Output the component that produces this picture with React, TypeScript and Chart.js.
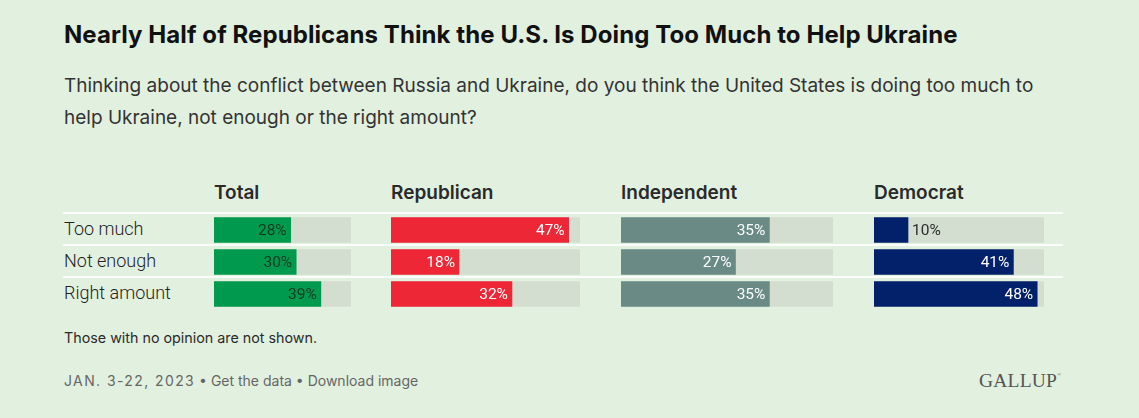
import React, { useEffect, useRef } from "react";
import { Chart, registerables } from "chart.js";

Chart.register(...registerables);

// ---- Data ----
const categories = ["Too much", "Not enough", "Right amount"];
const groups = ["Total", "Republican", "Independent", "Democrat"];
const totalValues = [28, 30, 39];
const republicanValues = [47, 18, 32];
const independentValues = [35, 27, 35];
const democratValues = [10, 41, 48];
const scaleMax = 50;

const title = "Nearly Half of Republicans Think the U.S. Is Doing Too Much to Help Ukraine";
const subtitleLines = [
  "Thinking about the conflict between Russia and Ukraine, do you think the United States is doing too much to",
  "help Ukraine, not enough or the right amount?",
];
const footnote = "Those with no opinion are not shown.";
const dateText = "JAN. 3-22, 2023";
const footerLinks = " \u2022 Get the data \u2022 Download image";

// ---- Layout / style ----
const BG = "#e2f0df";
const TRACK = "#d3ded0";
const FONT = "Inter, 'Noto Sans', sans-serif";
const FONT2 = "Roboto, 'Noto Sans', sans-serif";
const ROW_H = 32;
const CHART_TOP = 214;

const panels = [
  { name: groups[0], values: totalValues, x: 214, w: 137, color: "#009a4e", text: "#0f3a22" },
  { name: groups[1], values: republicanValues, x: 391, w: 189, color: "#ee2737", text: "#ffffff" },
  { name: groups[2], values: independentValues, x: 621, w: 212, color: "#6a8b85", text: "#ffffff" },
  { name: groups[3], values: democratValues, x: 874, w: 170, color: "#03206a", text: "#ffffff" },
];

function makeLabelPlugin(textColor: string) {
  return {
    id: "barLabels",
    afterDatasetsDraw(chart: any) {
      const ctx = chart.ctx as CanvasRenderingContext2D;
      const meta = chart.getDatasetMeta(0);
      const data = chart.data.datasets[0].data as number[];
      ctx.save();
      ctx.font = `15.5px ${FONT2}`;
      ctx.textBaseline = "middle";
      meta.data.forEach((bar: any, i: number) => {
        const p = bar.getProps(["x", "y", "base"], true);
        const txt = `${data[i]}%`;
        const tw = ctx.measureText(txt).width;
        if (p.x - p.base > tw + 10) {
          ctx.textAlign = "right";
          ctx.fillStyle = textColor;
          ctx.fillText(txt, p.x - 4, p.y + 1);
        } else {
          ctx.textAlign = "left";
          ctx.fillStyle = "#2b2b2b";
          ctx.fillText(txt, p.x + 4, p.y + 1);
        }
      });
      ctx.restore();
    },
  };
}

function Panel(props: { values: number[]; x: number; w: number; color: string; text: string }) {
  const ref = useRef<HTMLCanvasElement>(null);
  useEffect(() => {
    const chart = new Chart(ref.current as HTMLCanvasElement, {
      type: "bar",
      data: {
        labels: categories,
        datasets: [
          {
            data: props.values,
            backgroundColor: props.color,
            barThickness: 25,
            grouped: false,
            order: 1,
          } as any,
          {
            data: categories.map(() => scaleMax),
            backgroundColor: TRACK,
            barThickness: 25,
            grouped: false,
            order: 2,
          } as any,
        ],
      },
      options: {
        indexAxis: "y",
        responsive: false,
        animation: false,
        devicePixelRatio: 1,
        layout: { padding: 0 },
        scales: {
          x: { min: 0, max: scaleMax, display: false },
          y: { display: false },
        },
        plugins: { legend: { display: false }, tooltip: { enabled: false } },
      },
      plugins: [makeLabelPlugin(props.text)],
    });
    return () => chart.destroy();
  }, []);
  const h = ROW_H * categories.length;
  return (
    <canvas
      ref={ref}
      width={props.w}
      height={h}
      style={{ position: "absolute", left: props.x, top: CHART_TOP, width: props.w, height: h }}
    />
  );
}

function Txt(props: { x: number; cy: number; size: number; children: any; style?: any }) {
  const lh = props.size + 6;
  return (
    <div
      style={{
        position: "absolute",
        left: props.x,
        top: props.cy - lh / 2,
        fontSize: props.size,
        lineHeight: `${lh}px`,
        whiteSpace: "nowrap",
        fontFamily: FONT,
        ...(props.style || {}),
      }}
    >
      {props.children}
    </div>
  );
}

export default function App() {
  return (
    <div
      style={{
        position: "fixed",
        left: 0,
        top: 0,
        width: 1139,
        height: 418,
        background: BG,
        overflow: "hidden",
        color: "#333",
      }}
    >
      <Txt x={64} cy={35} size={24} style={{ fontWeight: 700, color: "#111", letterSpacing: 0.08 }}>
        {title}
      </Txt>
      {subtitleLines.map((l, i) => (
        <Txt key={i} x={64} cy={85 + i * 32} size={19} style={{ color: "#333" }}>
          {l}
        </Txt>
      ))}
      {panels.map((p) => (
        <Txt key={p.name} x={p.x} cy={192} size={19} style={{ fontWeight: 600, color: "#2a2a2a" }}>
          {p.name}
        </Txt>
      ))}
      {categories.map((c, i) => (
        <div
          key={"sep" + i}
          style={{
            position: "absolute",
            left: 63,
            top: CHART_TOP - 2 + i * ROW_H,
            width: 1000,
            height: 2,
            background: "#fbfdfa",
          }}
        />
      ))}
      {categories.map((c, i) => (
        <Txt
          key={c}
          x={64}
          cy={CHART_TOP + 15 + i * ROW_H}
          size={18}
          style={{ color: "#222", fontFamily: FONT2, fontWeight: 300 }}
        >
          {c}
        </Txt>
      ))}
      {panels.map((p) => (
        <Panel key={"c" + p.name} values={p.values} x={p.x} w={p.w} color={p.color} text={p.text} />
      ))}
      <Txt x={64} cy={338} size={14.3} style={{ color: "#2b2b2b" }}>
        {footnote}
      </Txt>
      <Txt x={64} cy={381} size={14} style={{ color: "#666" }}>
        <span style={{ letterSpacing: 1.4 }}>{dateText}</span>
        <span>{footerLinks}</span>
      </Txt>
      <Txt
        x={979}
        cy={381}
        size={19.5}
        style={{ fontFamily: "'Liberation Serif', 'DejaVu Serif', serif", color: "#555", letterSpacing: 0.2 }}
      >
        GALLUP<sup style={{ fontSize: 5, verticalAlign: "top", lineHeight: "14px" }}>®</sup>
      </Txt>
    </div>
  );
}
